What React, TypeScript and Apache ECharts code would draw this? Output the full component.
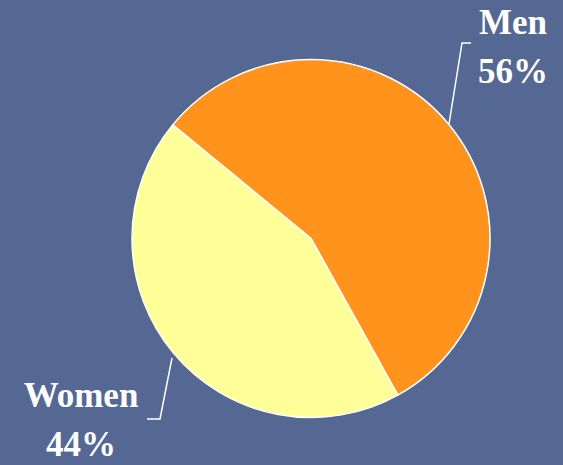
import React, { useEffect, useRef } from "react";
import * as echarts from "echarts";

const categories = ["Men", "Women"];
const values = [56, 44];
const colors = ["#FF931C", "#FFFF99"];

export default function App() {
  const ref = useRef<HTMLDivElement>(null);
  useEffect(() => {
    const chart = echarts.init(ref.current!, null, { renderer: "svg" });
    const labelPos = [
      { x: 513, y: 47, line: [[449, 124], [462, 43], [471, 43]] },
      { x: 81, y: 420, line: [[172, 358], [160, 419], [147, 419]] },
    ];
    chart.setOption({
      animation: false,
      backgroundColor: "#546893",
      series: [
        {
          type: "pie",
          center: [311, 238.5],
          radius: 179,
          startAngle: 140.6,
          clockwise: true,
          data: categories.map((c, i) => ({
            name: c,
            value: values[i],
            itemStyle: { color: colors[i] },
          })),
          itemStyle: { borderColor: "#ffffff", borderWidth: 1.5 },
          label: {
            show: true,
            formatter: "{b}\n{d}%",
            color: "#ffffff",
            fontFamily: "Liberation Serif",
            fontWeight: "bold",
            fontSize: 35,
            lineHeight: 49,
            align: "center",
            overflow: "none",
            width: 200,
          },
          labelLine: {
            show: true,
            lineStyle: { color: "#ffffff", width: 1.5 },
          },
          labelLayout: (params: any) => {
            const p = labelPos[params.dataIndex];
            return {
              x: p.x,
              y: p.y,
              align: "center",
              verticalAlign: "middle",
              labelLinePoints: p.line,
            };
          },
        },
      ],
    });
    return () => chart.dispose();
  }, []);
  return (
    <div
      ref={ref}
      style={{ position: "fixed", left: 0, top: 0, width: 563, height: 465 }}
    />
  );
}
